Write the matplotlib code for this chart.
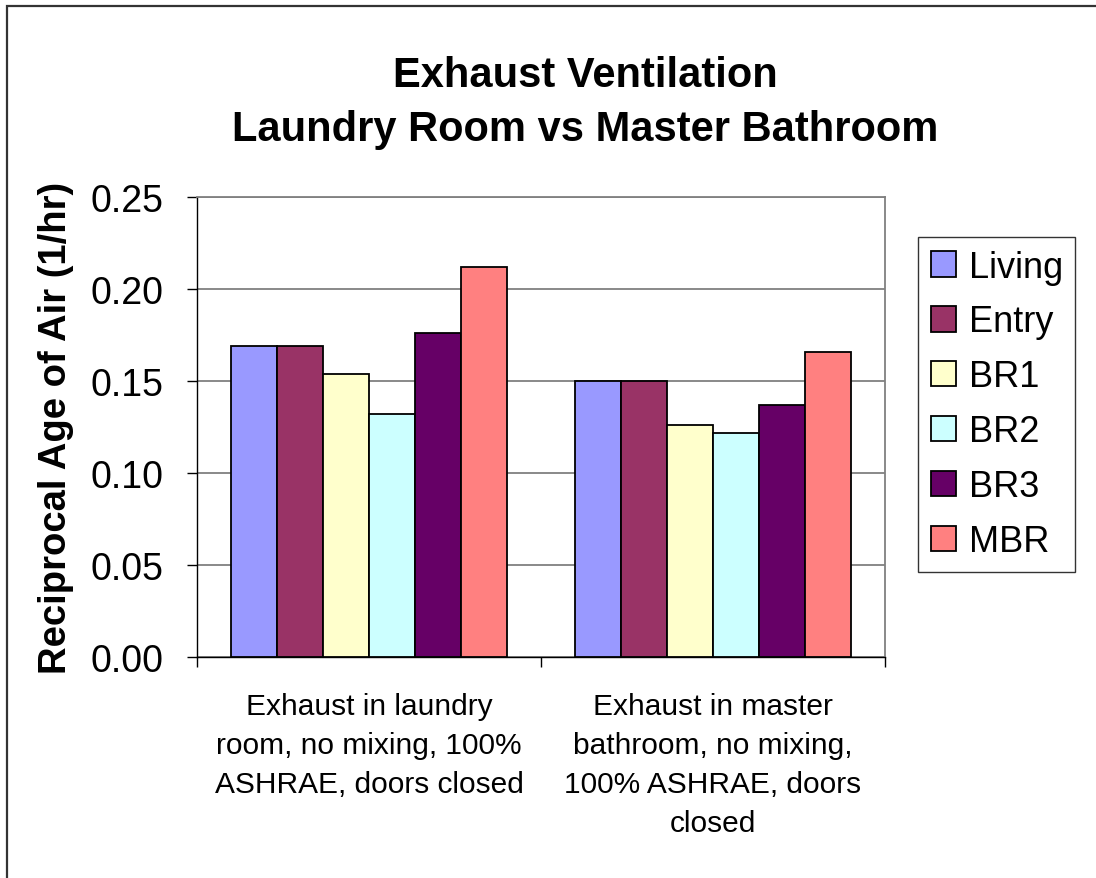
import matplotlib
matplotlib.use("Agg")
import matplotlib.pyplot as plt
import numpy as np
from matplotlib.patches import Rectangle

plt.rcParams['font.family'] = ['Liberation Sans', 'DejaVu Sans']

categories = ["Exhaust in laundry\nroom, no mixing, 100%\nASHRAE, doors closed",
              "Exhaust in master\nbathroom, no mixing,\n100% ASHRAE, doors\nclosed"]
series = ["Living", "Entry", "BR1", "BR2", "BR3", "MBR"]
values = {
    "Living": [0.169, 0.150],
    "Entry":  [0.169, 0.150],
    "BR1":    [0.154, 0.126],
    "BR2":    [0.132, 0.1215],
    "BR3":    [0.176, 0.137],
    "MBR":    [0.212, 0.166],
}
colors = ["#9999FF", "#993366", "#FFFFCC", "#CCFFFF", "#660066", "#FF8080"]
yticks = [0.00, 0.05, 0.10, 0.15, 0.20, 0.25]

W, H = 1096, 879
fig = plt.figure(figsize=(W/100, H/100), dpi=100)
ax = fig.add_axes([197/W, 1-658/H, (885-197)/W, (658-198)/H])

n = len(series)
gap = 1.5
bw = 1.0/(n+gap)
x = np.arange(len(categories))
for i, s in enumerate(series):
    off = (i - (n-1)/2)*bw
    ax.bar(x+off, values[s], width=bw, color=colors[i], edgecolor='black',
           linewidth=1.3, label=s, zorder=3)

ax.set_xlim(-0.5, len(categories)-0.5)
ax.set_ylim(0, 0.25)
ax.set_yticks(yticks)
ax.set_yticklabels([f"{v:.2f}" for v in yticks], fontsize=27)
ax.yaxis.grid(True, color='#808080', linewidth=1.3, zorder=0)
ax.set_axisbelow(True)

ax.set_xticks(x)
ax.set_xticklabels(categories, fontsize=21.5, linespacing=1.5, va='top')
ax.tick_params(axis='x', which='major', length=0, pad=25.5)
ax.set_xticks(np.arange(-0.5, len(categories)), minor=True)
ax.tick_params(axis='x', which='minor', length=7, width=1, direction='out', color='black')
ax.tick_params(axis='y', length=7, width=1, direction='out', pad=17)

for side in ['top', 'right']:
    ax.spines[side].set_color('#808080')
    ax.spines[side].set_linewidth(1.3)
for side in ['left', 'bottom']:
    ax.spines[side].set_color('black')
    ax.spines[side].set_linewidth(1)

ax.set_ylabel("Reciprocal Age of Air (1/hr)", fontsize=27.5, fontweight='bold', labelpad=12)

fig.text(585/W, 1-103/H, "Exhaust Ventilation\nLaundry Room vs Master Bathroom",
         ha='center', va='center', fontsize=30, fontweight='bold', linespacing=1.42)

leg = fig.legend(loc='upper left', bbox_to_anchor=(918/W, 1-238/H), fontsize=26,
                 frameon=True, fancybox=False, edgecolor='black', borderpad=0.35,
                 labelspacing=0.55, handlelength=0.7, handleheight=0.7,
                 handletextpad=0.35, borderaxespad=0)
leg.get_frame().set_linewidth(1)

fig.add_artist(Rectangle((7/W, -0.1), 3, 1-7/H+0.1, transform=fig.transFigure,
                         fill=False, edgecolor='#333333', linewidth=1.6))

fig.savefig("out.png", dpi=100)
